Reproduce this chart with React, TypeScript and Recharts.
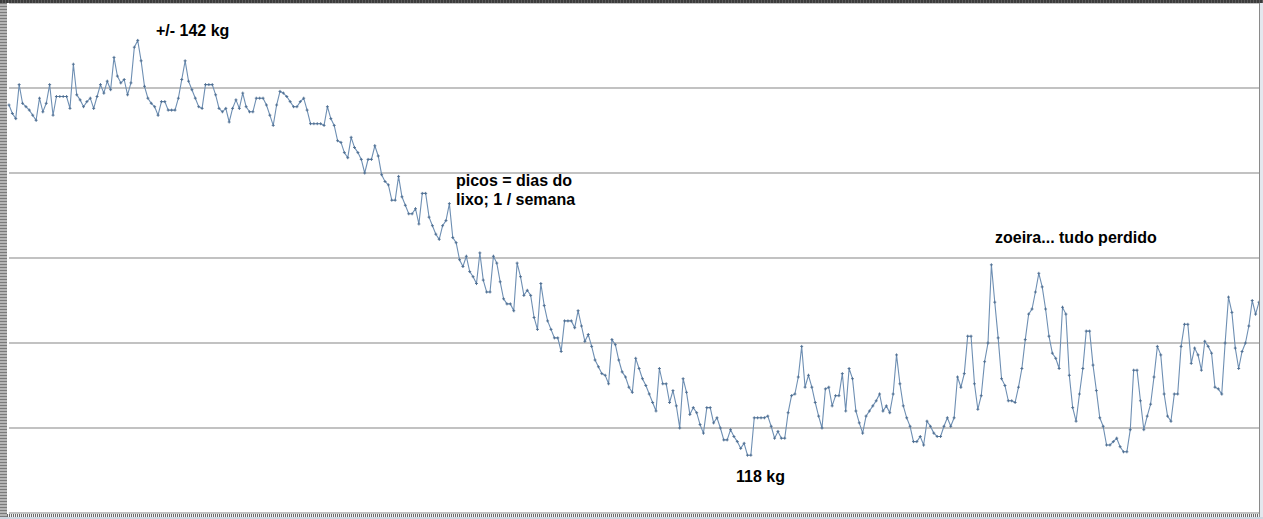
import React from "react";
import { LineChart, Line, XAxis, YAxis, CartesianGrid } from "recharts";

// Daily body weight (kg)
const weightsStart = [
  139.0, 138.5, 138.2, 140.2, 139.1, 138.9, 138.7, 138.4, 138.1, 139.4,
  138.6, 139.1, 140.2, 138.4, 139.5, 139.5, 139.5, 139.5, 138.8, 141.4,
  139.6, 139.3, 138.9, 139.2, 139.4, 138.8, 139.5, 140.2, 139.7, 140.4,
  139.9, 141.8, 140.7, 140.3, 140.5, 139.6, 140.3, 142.4, 142.8, 141.6,
  140.1, 139.4, 139.1, 138.9, 138.4, 139.2, 139.2, 138.7, 138.7, 138.7,
  139.4, 140.5, 141.6, 140.4, 139.9, 139.4, 138.9, 138.8, 140.2, 140.2,
  140.2, 139.6, 138.8,
];
const weightsPlateau = [
  138.6, 138.8, 138.0, 138.8, 139.3, 138.8, 139.7, 138.9, 138.6, 138.6,
  139.4, 139.4, 139.4, 139.0, 138.4, 137.8, 139.0, 139.8, 139.7, 139.5,
  139.2, 138.9, 138.9, 139.2, 139.4, 138.7, 137.9, 137.9, 137.9, 137.9,
  137.8, 138.9, 138.2, 137.8, 136.9, 136.8, 136.2, 135.9, 137.1, 136.5,
  136.2, 135.8, 135.0, 135.8, 135.8, 136.6, 136.0, 134.9,
];
const weightsDescent = [
  134.5, 134.3, 133.4, 133.4, 134.8, 133.6, 133.1, 132.6, 132.6, 132.9,
  132.0, 133.8, 133.8, 132.4, 131.9, 131.4, 131.1, 131.9, 132.2, 133.2,
  131.2, 130.9, 129.9, 129.5, 130.1, 129.2, 128.9, 128.5, 130.3, 128.7,
  128.0, 128.0, 130.1, 129.7, 128.6, 127.6, 127.3, 127.3, 126.9, 129.7,
  128.9, 127.8, 128.1, 127.8, 126.5, 125.8, 128.5, 127.2, 126.3, 125.8,
  125.3, 125.3,
];
const weightsLower = [
  124.5, 126.3, 126.3, 126.3, 125.9, 126.9, 126.0, 125.1, 125.5, 124.8,
  124.0, 123.6, 123.2, 123.1, 122.6, 125.2, 124.9, 124.0, 123.3, 123.0,
  122.4, 122.1, 124.1, 123.5, 122.9, 122.5, 122.0, 121.5, 121.0, 123.5,
  122.6, 122.6, 121.5, 122.2, 121.3, 120.0, 122.9, 122.1, 120.8, 121.2,
  120.9, 120.2, 119.7, 121.2, 121.2, 120.3, 120.6,
];
const weightsBottom = [
  120.0, 119.3, 119.3, 119.9, 119.5, 119.2, 118.8, 119.1, 118.4, 118.4,
  120.6, 120.6, 120.6, 120.6, 120.7, 120.1, 119.4, 119.8, 119.4, 119.4,
  120.9, 121.9, 122.0, 123.0, 124.8, 122.4, 123.1, 122.4, 121.5, 120.7,
  120.0, 122.3, 122.4, 121.3, 121.9, 121.9, 123.2, 121.0, 123.5, 122.9,
  121.0, 120.3, 119.7, 120.7, 121.0, 121.3, 121.6, 122.0,
];
const weightsFlat = [
  121.0, 121.3, 120.9, 122.0, 124.3, 122.6, 121.3, 120.6, 120.1, 119.2,
  119.2, 119.5, 119.0, 120.4, 120.1, 119.7, 119.5, 119.5, 120.1, 120.6,
  120.1, 120.6, 123.0, 122.4, 123.2, 125.4, 125.4, 122.6, 121.1, 121.9,
  123.9, 125.0, 129.6, 127.4, 125.3,
];
const weightsRebound = [
  122.9, 122.5, 121.6, 121.6, 121.5, 122.4, 123.5, 125.2, 126.7, 127.0,
  128.0, 129.1, 128.3, 127.0, 125.4, 124.4, 124.1, 123.5, 127.1, 126.7,
  123.1, 121.2, 120.4, 122.0, 123.5, 125.7, 125.7, 123.7, 122.2, 120.6,
  120.1, 119.0, 119.0, 119.2, 119.4, 118.9, 118.6, 118.6,
];
const weightsEnd = [
  119.9, 123.4, 123.4, 121.6, 119.9, 120.7, 121.4, 123.0, 124.8, 124.3,
  122.0, 120.7, 120.4, 122.0, 122.0, 124.8, 126.1, 126.1, 123.8, 124.7,
  124.3, 123.4, 125.1, 124.8, 124.4, 122.4, 122.3, 122.0, 125.0, 127.7,
  126.8, 124.7, 123.5, 124.5, 125.0, 126.0, 127.5, 126.7, 127.4,
];

const yTicks = [115, 120, 125, 130, 135, 140, 145];
const notes = {
  top: "+/- 142 kg",
  picos1: "picos = dias do",
  picos2: "lixo; 1 / semana",
  bottom: "118 kg",
  zoeira: "zoeira... tudo perdido",
};

const weights = [
  ...weightsStart,
  ...weightsPlateau,
  ...weightsDescent,
  ...weightsLower,
  ...weightsBottom,
  ...weightsFlat,
  ...weightsRebound,
  ...weightsEnd,
];
const data = weights.map((kg, i) => ({ day: i + 1, kg }));

const PlusDot = (props: any) => {
  const { cx, cy, index } = props;
  if (cx == null || cy == null) return <g key={`d${index}`} />;
  return (
    <path
      key={`d${index}`}
      d={`M${cx - 1.5},${cy}H${cx + 1.5}M${cx},${cy - 1.5}V${cy + 1.5}`}
      stroke="#4d6d91"
      strokeWidth={0.9}
      fill="none"
    />
  );
};

const textStyle: React.CSSProperties = {
  fontFamily: "'Liberation Sans', Arial, sans-serif",
  fontWeight: 700,
  fontSize: 16,
};

export default function App() {
  return (
    <div
      style={{
        position: "absolute",
        left: 0,
        top: 0,
        width: 1263,
        height: 519,
        background: "#ffffff",
        overflow: "hidden",
      }}
    >
      <LineChart
        width={1263}
        height={519}
        data={data}
        margin={{ top: 3, right: 4, bottom: 6, left: 9 }}
      >
        <CartesianGrid vertical={false} stroke="#858585" strokeWidth={1} />
        <XAxis dataKey="day" hide padding={{ left: 0, right: 0 }} />
        <YAxis hide domain={[115, 145]} ticks={yTicks} />
        <Line
          type="linear"
          dataKey="kg"
          stroke="#6e8fb3"
          strokeWidth={1.1}
          dot={PlusDot}
          activeDot={false}
          isAnimationActive={false}
        />
      </LineChart>

      {/* window frame decorations */}
      <div
        style={{
          position: "absolute",
          left: 0,
          top: 0,
          width: 7,
          height: 519,
          background:
            "repeating-linear-gradient(to bottom, #7a7a7a 0px, #7a7a7a 1px, #b5b5b5 1px, #b5b5b5 3px)",
        }}
      />
      <div
        style={{
          position: "absolute",
          left: 0,
          top: 0,
          width: 1263,
          height: 3,
          background:
            "repeating-linear-gradient(to right, #3c3c3c 0px, #3c3c3c 2px, #5a5a5a 2px, #5a5a5a 3px)",
        }}
      />
      <div
        style={{
          position: "absolute",
          left: 7,
          top: 514,
          width: 1252,
          height: 3,
          background:
            "repeating-linear-gradient(to right, #6a6a6a 0px, #6a6a6a 1px, #f4f4f4 1px, #f4f4f4 2px)",
        }}
      />
      <div
        style={{
          position: "absolute",
          left: 0,
          top: 517,
          width: 1263,
          height: 2,
          background: "#cdd5df",
        }}
      />
      <div
        style={{
          position: "absolute",
          left: 1259,
          top: 3,
          width: 1,
          height: 514,
          background: "#8a8a8a",
        }}
      />
      <div
        style={{
          position: "absolute",
          left: 1260,
          top: 3,
          width: 3,
          height: 514,
          background: "#e3e8ee",
        }}
      />

      <svg
        width={1263}
        height={519}
        style={{ position: "absolute", left: 0, top: 0, pointerEvents: "none" }}
      >
        <text x={156} y={36} fill="#000" style={textStyle}>
          {notes.top}
        </text>
        <text x={456} y={186} fill="#000" style={textStyle}>
          {notes.picos1}
        </text>
        <text x={456} y={205} fill="#000" style={textStyle}>
          {notes.picos2}
        </text>
        <text x={995} y={243} fill="#000" style={textStyle}>
          {notes.zoeira}
        </text>
        <text x={736} y={482} fill="#000" style={textStyle}>
          {notes.bottom}
        </text>
      </svg>
    </div>
  );
}
